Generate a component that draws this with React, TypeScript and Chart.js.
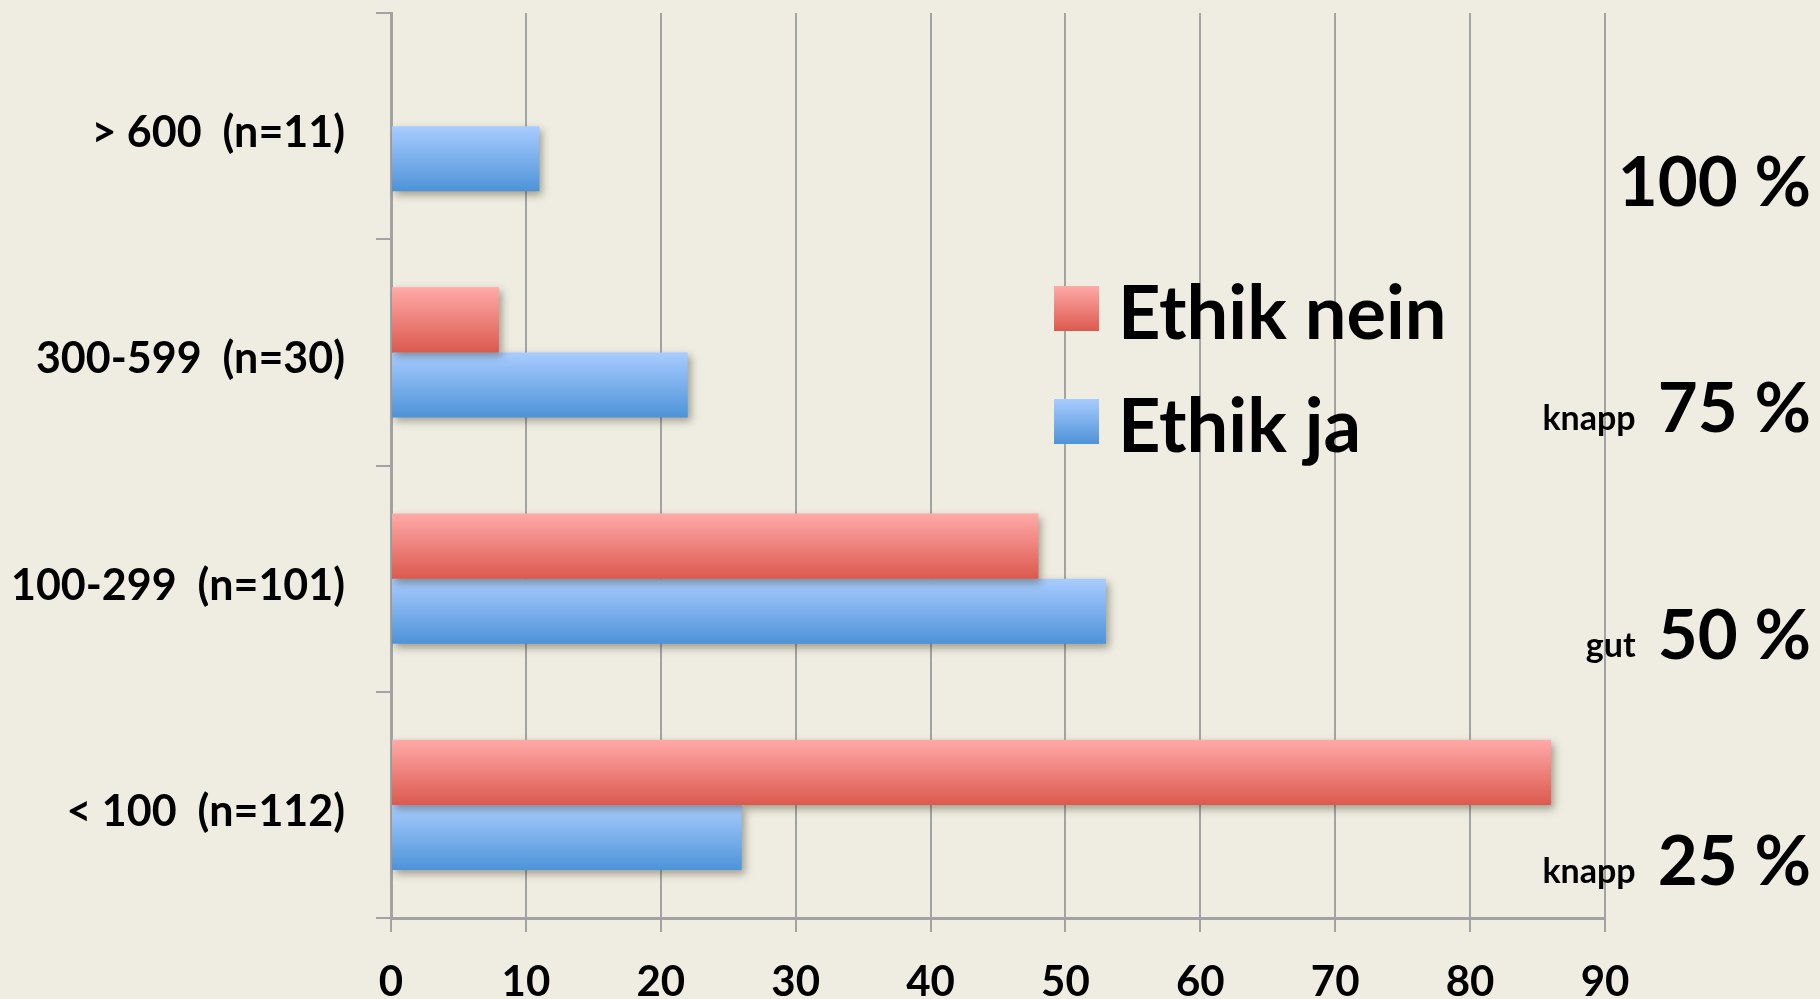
import React, { useEffect, useRef } from 'react';
import { Chart, registerables } from 'chart.js';

Chart.register(...registerables);

// ---- data ----
const categories = ['> 600  (n=11)', '300-599  (n=30)', '100-299  (n=101)', '< 100  (n=112)'];
const seriesNames = ['Ethik nein', 'Ethik ja'];
const ethikNein = [0, 8, 48, 86];
const ethikJa = [11, 22, 53, 26];
const rightValues = ['100 %', '75 %', '50 %', '25 %'];
const rightQualifiers = ['', 'knapp', 'gut', 'knapp'];
const xMin = 0;
const xMax = 90;
const xStep = 10;

// ---- style ----
const BG = '#efede1';
const GRID = '#a3a3a3';
const FONT = 'Lato, "Open Sans", sans-serif';
const CAT_PCT = 0.575;
const gradStops = [
  ['#ffaaa8', '#dc594e'],
  ['#a9ccff', '#4d93d8'],
];

function barFill(c: any) {
  const chart = c.chart;
  const ds = c.datasetIndex ?? 0;
  const cols = gradStops[ds];
  const ys = chart.scales && chart.scales.y;
  if (!ys || c.dataIndex == null || !chart.chartArea) return cols[1];
  const center = ys.getPixelForValue(c.dataIndex);
  const cat = (ys.bottom - ys.top) / categories.length;
  const thick = (cat * CAT_PCT) / 2;
  const top = center - (cat * CAT_PCT) / 2 + ds * thick;
  const g = chart.ctx.createLinearGradient(0, top, 0, top + thick);
  g.addColorStop(0, cols[0]);
  g.addColorStop(1, cols[1]);
  return g;
}

const shadowPlugin = {
  id: 'barShadow',
  beforeDatasetsDraw(chart: any) {
    const ctx = chart.ctx;
    ctx.save();
    ctx.shadowColor = 'rgba(60,60,40,0.45)';
    ctx.shadowBlur = 8;
    ctx.shadowOffsetX = 3;
    ctx.shadowOffsetY = 4;
  },
  afterDatasetsDraw(chart: any) {
    chart.ctx.restore();
  },
};

const overlayPlugin = {
  id: 'overlay',
  afterDraw(chart: any) {
    const ctx = chart.ctx;
    const ys = chart.scales.y;
    ctx.save();
    // legend
    const boxX = 1054;
    const boxSize = 45;
    const rowTop = [286, 399];
    chart.data.datasets.forEach((d: any, i: number) => {
      const top = rowTop[i];
      const g = ctx.createLinearGradient(0, top, 0, top + boxSize);
      g.addColorStop(0, gradStops[i][0]);
      g.addColorStop(1, gradStops[i][1]);
      ctx.fillStyle = g;
      ctx.fillRect(boxX, top, boxSize, boxSize);
      ctx.fillStyle = '#000';
      ctx.font = `bold 74px ${FONT}`;
      ctx.textAlign = 'left';
      ctx.textBaseline = 'alphabetic';
      ctx.fillText(d.label, 1118, top + 53);
    });
    // right-side percentages
    const rightX = 1811;
    rightValues.forEach((v, i) => {
      const base = ys.getPixelForValue(i) + 80;
      ctx.fillStyle = '#000';
      ctx.textAlign = 'right';
      ctx.textBaseline = 'alphabetic';
      ctx.font = `bold 69px ${FONT}`;
      ctx.fillText(v, rightX, base);
      const w = ctx.measureText(v).width;
      if (rightQualifiers[i]) {
        ctx.font = `bold 34px ${FONT}`;
        ctx.fillText(rightQualifiers[i], rightX - w - 22, base - 2);
      }
    });
    ctx.restore();
  },
};

export default function App() {
  const ref = useRef<HTMLCanvasElement | null>(null);
  useEffect(() => {
    if (!ref.current) return;
    const chart = new Chart(ref.current, {
      type: 'bar',
      data: {
        labels: categories,
        datasets: [
          { label: seriesNames[0], data: ethikNein, backgroundColor: barFill, borderWidth: 0, categoryPercentage: CAT_PCT, barPercentage: 1 },
          { label: seriesNames[1], data: ethikJa, backgroundColor: barFill, borderWidth: 0, categoryPercentage: CAT_PCT, barPercentage: 1 },
        ],
      },
      options: {
        indexAxis: 'y',
        responsive: false,
        animation: false,
        devicePixelRatio: 1,
        layout: { padding: { top: 13, right: 215, left: 0, bottom: 0 } },
        plugins: {
          legend: { display: false },
          tooltip: { enabled: false },
        },
        scales: {
          x: {
            type: 'linear',
            min: xMin,
            max: xMax,
            ticks: {
              stepSize: xStep,
              color: '#000',
              padding: 25,
              font: { family: FONT, size: 42, weight: 'bold' },
              maxRotation: 0,
            },
            grid: { color: GRID, lineWidth: 2, tickLength: 14, drawTicks: true },
            border: { color: GRID, width: 3 },
            afterFit(scale: any) {
              scale.height = 81;
              scale.paddingLeft = 0;
              scale.paddingRight = 0;
            },
          },
          y: {
            type: 'category',
            offset: true,
            ticks: {
              color: '#000',
              padding: 31,
              labelOffset: 7,
              font: { family: FONT, size: 43, weight: 'bold' },
            },
            grid: { color: GRID, lineWidth: 2, tickLength: 15, drawOnChartArea: false, offset: true },
            border: { color: GRID, width: 3 },
            afterFit(scale: any) {
              scale.width = 391;
              scale.paddingTop = 0;
              scale.paddingBottom = 0;
            },
          },
        },
      } as any,
      plugins: [shadowPlugin, overlayPlugin],
    });
    return () => chart.destroy();
  }, []);
  return (
    <div style={{ position: 'fixed', left: 0, top: 0, width: 1820, height: 999, background: BG, overflow: 'hidden' }}>
      <canvas ref={ref} width={1820} height={999} style={{ display: 'block', width: 1820, height: 999 }} />
    </div>
  );
}
